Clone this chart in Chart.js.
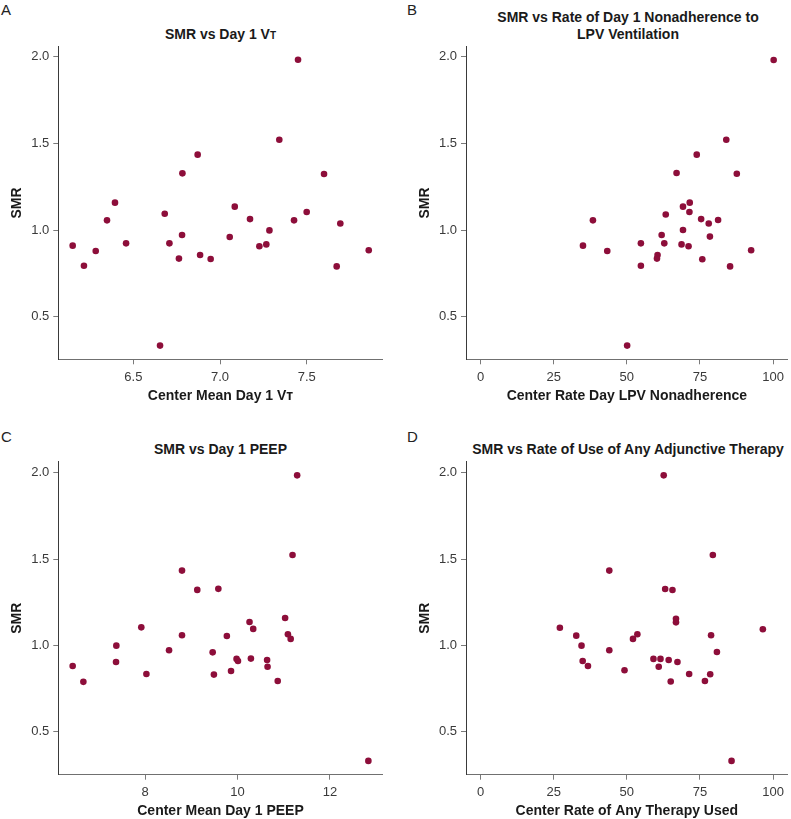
<!DOCTYPE html>
<html>
<head>
<meta charset="utf-8">
<script src="https://cdn.jsdelivr.net/npm/chart.js@4/dist/chart.umd.min.js"></script>
<style>
  html, body { margin: 0; padding: 0; background: #fff; overflow: hidden; }
  body { width: 791px; height: 819px; position: relative; font-family: 'Liberation Sans', Arial, sans-serif; }
  canvas { position: absolute; }
  .lbl { position: absolute; font-size: 15px; line-height: 15px; color: #222; }
  .ttl { position: absolute; width: 440px; text-align: center; font-size: 14px; line-height: 14px; font-weight: bold; color: #1a1a1a; white-space: nowrap; }
  .sc { font-size: 10px; }
</style>
</head>
<body>
<div class="lbl" style="left:1px;top:2px;">A</div>
<div class="lbl" style="left:407px;top:2px;">B</div>
<div class="lbl" style="left:1px;top:429px;">C</div>
<div class="lbl" style="left:407px;top:429px;">D</div>

<div class="ttl" style="left:0.5px;top:27px;">SMR vs Day 1 V<span class="sc">T</span></div>
<div class="ttl" style="left:408px;top:9.9px;">SMR vs Rate of Day 1 Nonadherence to</div>
<div class="ttl" style="left:408px;top:26.5px;">LPV Ventilation</div>
<div class="ttl" style="left:0.5px;top:442px;">SMR vs Day 1 PEEP</div>
<div class="ttl" style="left:408px;top:442px;">SMR vs Rate of Use of Any Adjunctive Therapy</div>

<canvas id="cA" width="395" height="410" style="left:0;top:0;"></canvas>
<canvas id="cB" width="396" height="410" style="left:395px;top:0;"></canvas>
<canvas id="cC" width="395" height="409" style="left:0;top:410px;"></canvas>
<canvas id="cD" width="396" height="409" style="left:395px;top:410px;"></canvas>

<script>
// ---- Tick labels ----
const smrTicks = [0.5, 1.0, 1.5, 2.0];
const vtTicks = [6.5, 7.0, 7.5];
const pctTicks = [0, 25, 50, 75, 100];
const peepTicks = [8, 10, 12];

// ---- Panel A: Center Mean Day 1 VT vs SMR ----
const vtX = [6.15, 6.215, 6.283, 6.348, 6.394, 6.458, 6.654, 6.681, 6.708, 6.763, 6.781, 6.885, 6.946, 7.056, 7.085,
             7.173, 7.227, 7.267, 7.285, 7.427, 7.5, 7.673, 7.694, 7.858, 7.45, 7.342, 6.871, 6.783, 7.6];
const vtSMR = [0.91, 0.794, 0.879, 1.056, 1.158, 0.923, 0.333, 1.094, 0.923, 0.835, 0.971, 0.856, 0.833, 0.96, 1.135,
               1.063, 0.906, 0.917, 0.998, 1.056, 1.104, 0.79, 1.038, 0.883, 1.983, 1.521, 1.435, 1.327, 1.323];

// ---- Panel B: Center Rate Day 1 LPV Nonadherence vs SMR ----
const lpvX = [35.0, 38.4, 43.3, 50.1, 54.8, 54.8, 60.5, 60.3, 61.9, 62.8, 63.3, 68.7, 69.2, 69.2, 71.1,
              71.4, 71.5, 75.4, 75.8, 78.0, 78.4, 81.2, 85.3, 92.5, 100.2, 84.0, 73.9, 67.0, 87.6];
const lpvSMR = [0.91, 1.056, 0.879, 0.333, 0.923, 0.794, 0.856, 0.835, 0.971, 0.923, 1.09, 0.917, 1.135, 1.0, 0.906,
                1.104, 1.158, 1.063, 0.831, 1.038, 0.962, 1.058, 0.79, 0.883, 1.981, 1.521, 1.435, 1.329, 1.325];

// ---- Panel C: Center Mean Day 1 PEEP vs SMR ----
const peepX = [6.436, 6.667, 7.38, 7.373, 7.92, 8.03, 8.52, 8.8, 9.463, 9.49, 9.77, 9.86, 9.98, 10.01, 10.26,
               10.29, 10.34, 10.64, 10.65, 10.87, 11.03, 11.09, 11.15, 12.83, 11.29, 11.19, 8.8, 9.13, 9.586];
const peepSMR = [0.88, 0.788, 0.998, 0.903, 1.104, 0.834, 0.971, 1.058, 0.959, 0.83, 1.054, 0.851, 0.921, 0.909, 1.135,
                 0.923, 1.095, 0.915, 0.876, 0.793, 1.158, 1.064, 1.037, 0.33, 1.985, 1.523, 1.433, 1.321, 1.327];

// ---- Panel D: Center Rate of Any Adjunctive Therapy vs SMR ----
const adjX = [27.1, 32.7, 34.5, 34.9, 36.7, 44.0, 49.2, 52.1, 53.6, 59.1, 60.9, 61.5, 64.3, 65.0, 66.8,
              66.8, 67.3, 71.3, 76.7, 78.5, 78.8, 80.8, 85.8, 96.5, 62.6, 79.4, 44.0, 63.1, 65.6];
const adjSMR = [1.102, 1.056, 0.998, 0.909, 0.88, 0.971, 0.855, 1.037, 1.064, 0.921, 0.876, 0.921, 0.915, 0.79, 1.154,
                1.133, 0.903, 0.834, 0.793, 0.832, 1.058, 0.961, 0.33, 1.093, 1.985, 1.523, 1.433, 1.326, 1.32];

Chart.defaults.font.family = "'Liberation Sans', Arial, sans-serif";

function panel(id, xs, ys, cfg) {
  const pts = xs.map((x, i) => ({ x: x, y: ys[i] }));
  new Chart(document.getElementById(id), {
    type: 'scatter',
    data: { datasets: [{ data: pts, backgroundColor: '#8d0e3a', borderWidth: 0, pointRadius: 3.3, pointHoverRadius: 3.3 }] },
    options: {
      responsive: false,
      animation: false,
      events: [],
      layout: { padding: cfg.pad },
      plugins: { legend: { display: false }, tooltip: { enabled: false }, title: { display: false } },
      scales: {
        x: {
          type: 'linear',
          min: cfg.xMin, max: cfg.xMax,
          afterBuildTicks: s => { s.ticks = cfg.xTicks.map(v => ({ value: v })); },
          afterFit: s => { s.height = 42; },
          ticks: { autoSkip: false, maxRotation: 0, padding: 5, color: '#3a3a3a', font: { size: 13 },
                   callback: v => cfg.xFmt(v) },
          grid: { drawOnChartArea: false, drawTicks: true, tickLength: 5, color: '#7a7a7a' },
          border: { display: true, color: '#707070', width: 1 },
          title: { display: true, text: cfg.xTitle, color: '#1a1a1a', font: { size: 14, weight: 'bold' },
                   padding: { top: 0, bottom: -3 } }
        },
        y: {
          type: 'linear',
          min: cfg.yMin, max: cfg.yMax,
          afterBuildTicks: s => { s.ticks = smrTicks.map(v => ({ value: v })); },
          afterFit: s => { s.width = 58.3; },
          ticks: { autoSkip: false, padding: 4, color: '#3a3a3a', font: { size: 13 },
                   callback: v => v.toFixed(1) },
          grid: { drawOnChartArea: false, drawTicks: true, tickLength: 5, color: '#7a7a7a' },
          border: { display: true, color: '#3a3a3a', width: 1 },
          title: { display: true, text: 'SMR', color: '#1a1a1a', font: { size: 14, weight: 'bold' },
                   padding: { top: 8.6, bottom: 0 } }
        }
      }
    }
  });
}

panel('cA', vtX, vtSMR, {
  pad: { top: 46.7, left: 0, right: 12.3, bottom: 8.7 },
  xMin: 6.067, xMax: 7.9385, yMin: 0.254, yMax: 2.058,
  xTicks: vtTicks, xFmt: v => v.toFixed(1), xTitle: 'Center Mean Day 1 V\u1D1B'
});
panel('cB', lpvX, lpvSMR, {
  pad: { top: 46.7, left: 12.7, right: 1, bottom: 8.7 },
  xMin: -5, xMax: 105, yMin: 0.254, yMax: 2.058,
  xTicks: pctTicks, xFmt: v => String(v), xTitle: 'Center Rate Day LPV Nonadherence'
});
panel('cC', peepX, peepSMR, {
  pad: { top: 51.7, left: 0, right: 12.3, bottom: 2.3 },
  xMin: 6.125, xMax: 13.14, yMin: 0.250, yMax: 2.064,
  xTicks: peepTicks, xFmt: v => String(v), xTitle: 'Center Mean Day 1 PEEP'
});
panel('cD', adjX, adjSMR, {
  pad: { top: 51.7, left: 12.7, right: 1, bottom: 2.3 },
  xMin: -5, xMax: 105, yMin: 0.250, yMax: 2.064,
  xTicks: pctTicks, xFmt: v => String(v), xTitle: 'Center Rate of Any Therapy Used'
});
</script>
</body>
</html>
